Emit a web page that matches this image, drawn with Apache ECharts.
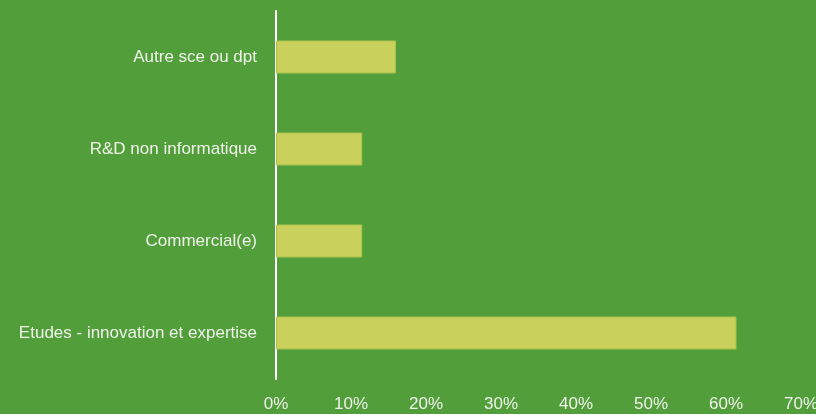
<!DOCTYPE html>
<html>
<head>
<meta charset="utf-8">
<script src="https://cdn.jsdelivr.net/npm/echarts@6/dist/echarts.min.js"></script>
<style>
  html, body { margin: 0; padding: 0; background: #529e3a; }
  #chart { width: 816px; height: 414px; }
</style>
</head>
<body>
<div id="chart"></div>
<script>
// catégories de bas en haut (ordre de l'axe)
const categories = ['Etudes - innovation et expertise', 'Commercial(e)', 'R&D non informatique', 'Autre sce ou dpt']
const values = [61.4, 11.5, 11.5, 16.0]
const tickMax = 70
const tickStep = 10

const font = '"Liberation Sans", Arial, sans-serif'

const chart = echarts.init(document.getElementById('chart'))
chart.setOption({
  backgroundColor: '#529e3a',
  animation: false,
  grid: { left: 276, right: 15, top: 11, bottom: 35, containLabel: false, outerBoundsMode: 'none' },
  xAxis: {
    type: 'value',
    min: 0,
    max: tickMax,
    interval: tickStep,
    axisLine: { show: false },
    axisTick: { show: false },
    splitLine: { show: false },
    axisLabel: {
      color: '#eef3ea',
      fontFamily: font,
      fontSize: 17,
      margin: 17,
      formatter: (v) => v + '%'
    }
  },
  yAxis: {
    type: 'category',
    data: categories,
    axisLine: { show: true, lineStyle: { color: '#ffffff', width: 2 } },
    axisTick: { show: false },
    axisLabel: {
      color: '#eef3ea',
      fontFamily: font,
      fontSize: 17,
      margin: 19
    }
  },
  series: [{
    type: 'bar',
    data: values,
    barWidth: 33,
    itemStyle: { color: '#c9d05c', borderColor: '#abc24c', borderWidth: 1 }
  }]
})
</script>
</body>
</html>
